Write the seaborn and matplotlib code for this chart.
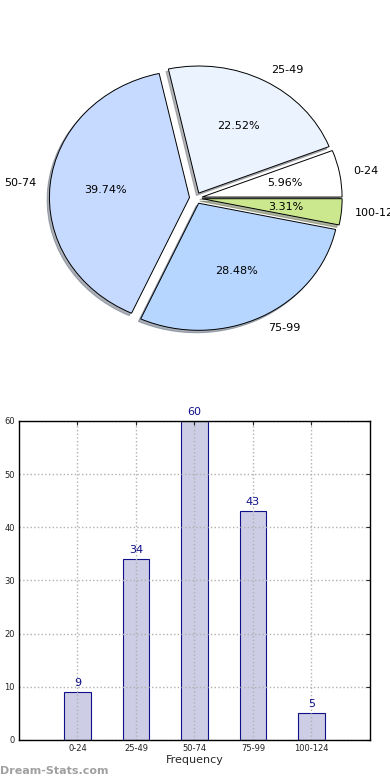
import matplotlib
matplotlib.use("Agg")
import matplotlib.pyplot as plt
import seaborn as sns
import pandas as pd

categories = ["0-24", "25-49", "50-74", "75-99", "100-124"]
frequencies = [9, 34, 60, 43, 5]
pie_colors = ["#ffffff", "#ebf3ff", "#c6daff", "#b6d6ff", "#cbe88e"]
yticks = [0, 10, 20, 30, 40, 50, 60]

sns.set_style("white")
plt.rcParams["font.family"] = ["DejaVu Sans"]

fig = plt.figure(figsize=(3.9, 7.8), dpi=100)

# ---- Pie chart ----
axp = fig.add_axes([0.071, 0.5505, 0.862, 0.391])
wedges, texts, autotexts = axp.pie(
    frequencies, labels=categories, colors=pie_colors,
    explode=[0.045] * len(frequencies),
    shadow=dict(ox=-0.012, oy=-0.014, shade=0.55),
    startangle=0,
    autopct="%1.2f%%", labeldistance=1.1, pctdistance=0.6,
    wedgeprops=dict(edgecolor="black", linewidth=0.7),
    textprops=dict(fontsize=8, color="black"))
axp.set_aspect("auto")
axp.set_xlim(-1.2, 1.2)
axp.set_ylim(-1.2, 1.2)
axp.axis("off")

# ---- Bar chart ----
axb = fig.add_axes([0.0487, 0.0513, 0.9, 0.409])
df = pd.DataFrame({"cat": categories, "freq": frequencies})
sns.barplot(data=df, x="cat", y="freq", ax=axb, width=0.45,
            color="#cdcde6", edgecolor="#10108a", linewidth=0.8,
            saturation=1, order=categories)
axb.set_xlim(-1, 5)
axb.set_ylim(0, 60)
axb.set_yticks(yticks)
axb.set_xlabel("Frequency", fontsize=8, labelpad=1)
axb.set_ylabel("")
axb.tick_params(axis="both", labelsize=6, direction="in", length=3,
                top=True, right=True, pad=3, labelcolor="#222222")
axb.grid(True, linestyle=":", color="#b0b0b0", linewidth=1.0)
axb.set_axisbelow(False)
for p in axb.patches:
    p.set_zorder(1)
for gl in axb.get_xgridlines() + axb.get_ygridlines():
    gl.set_zorder(2)
for s in axb.spines.values():
    s.set_visible(True)
    s.set_color("black")
    s.set_linewidth(1.0)
    s.set_zorder(5)
for i, v in enumerate(frequencies):
    axb.text(i, v + 0.8, str(v), ha="center", va="bottom",
             fontsize=8, color="#10108a")

fig.text(0.0, 0.005, "Dream-Stats.com", fontsize=8, color="#a0a0a0",
         fontweight="semibold", ha="left", va="bottom")

fig.savefig("out.png", dpi=100)
